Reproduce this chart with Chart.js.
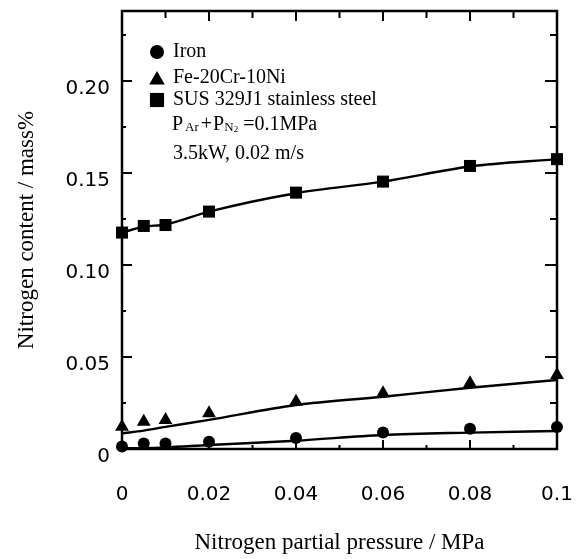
<!DOCTYPE html>
<html><head><meta charset="utf-8">
<script src="https://cdn.jsdelivr.net/npm/chart.js@4/dist/chart.umd.min.js"></script>
<style>html,body{margin:0;padding:0;background:#fff;} canvas{display:block;}</style>
</head><body>
<canvas id="c" width="576" height="559"></canvas>
<script>
// ---- data ----
const pressures = [0, 0.005, 0.01, 0.02, 0.04, 0.06, 0.08, 0.1];
const ironN   = [0.0013, 0.003, 0.003, 0.004, 0.006, 0.009, 0.011, 0.012];
const feCrNiN = [0.0121, 0.0148, 0.0158, 0.0194, 0.0257, 0.0303, 0.0357, 0.0402];
const susN    = [0.1176, 0.1212, 0.1217, 0.129, 0.1393, 0.1453, 0.1538, 0.1575];
// fitted curves (as drawn in the reference)
const ironFit   = [0.0004, 0.0005, 0.0009, 0.0022, 0.0045, 0.0076, 0.0089, 0.0098];
const feCrNiFit = [0.0085, 0.0100, 0.0120, 0.0158, 0.0239, 0.0284, 0.0333, 0.0375];
const susFit    = [0.1176, 0.1208, 0.1220, 0.1290, 0.1390, 0.1453, 0.1535, 0.1575];
const seriesNames = ['Iron', 'Fe-20Cr-10Ni', 'SUS 329J1 stainless steel'];
const xTickLabels = ['0', '0.02', '0.04', '0.06', '0.08', '0.1'];
const yTickLabels = ['0', '0.05', '0.10', '0.15', '0.20'];
const xTitle = 'Nitrogen partial pressure / MPa';
const yTitle = 'Nitrogen content / mass%';

const pts = (xs, ys) => xs.map((x, i) => ({x: x, y: ys[i]}));
const black = '#000';
const serif = '"Liberation Serif", "Times New Roman", serif';
const sans = '"DejaVu Sans", sans-serif';

const fitDs = (ys) => ({
  data: pts(pressures, ys), showLine: true, pointRadius: 0, borderColor: black,
  borderWidth: 2.4, tension: 0.3, cubicInterpolationMode: 'monotone', clip: false
});
const markDs = (ys, style, r) => ({
  data: pts(pressures, ys), showLine: false, pointStyle: style, pointRadius: r,
  pointBackgroundColor: black, pointBorderColor: black, pointBorderWidth: 0, clip: false
});

const framePlugin = {
  id: 'frame',
  afterDraw(chart) {
    const {ctx, chartArea: a, scales: {x, y}} = chart;
    ctx.save();
    ctx.strokeStyle = black;
    ctx.lineWidth = 2.5;
    ctx.strokeRect(a.left, a.top, a.right - a.left, a.bottom - a.top);
    ctx.lineWidth = 2;
    ctx.beginPath();
    for (let i = 0; i <= 10; i++) {
      const px = x.getPixelForValue(i * 0.01);
      const major = i % 2 === 0;
      ctx.moveTo(px, a.bottom); ctx.lineTo(px, a.bottom - (major ? 9 : 4));
      ctx.moveTo(px, a.top); ctx.lineTo(px, a.top + (major ? 10 : 7));
    }
    for (let i = 0; i <= 9; i++) {
      const py = y.getPixelForValue(i * 0.025);
      const major = i % 2 === 0;
      ctx.moveTo(a.left, py); ctx.lineTo(a.left + (major ? 10 : 4), py);
      ctx.moveTo(a.right, py); ctx.lineTo(a.right - (major ? 12 : 7), py);
    }
    ctx.stroke();

    // legend / annotation block
    const rows = [
      {style: 'circle', r: 7, y: 52},
      {style: 'triangle', r: 9, y: 80},
      {style: 'rect', r: 10, y: 100}
    ];
    ctx.fillStyle = black;
    ctx.textBaseline = 'middle';
    ctx.textAlign = 'left';
    ctx.font = '20px ' + serif;
    rows.forEach((row, i) => {
      Chart.helpers.drawPoint(ctx, {pointStyle: row.style, radius: row.r, rotation: 0, borderWidth: 0}, 157, row.y);
      ctx.fillText(seriesNames[i], 173, i === 1 ? 78 : row.y);
    });
    // P_Ar + P_N2 = 0.1MPa
    let tx = 172;
    const ty = 125;
    const seg = (txt, size, dy) => {
      ctx.font = size + 'px ' + serif;
      ctx.fillText(txt, tx, ty + dy);
      tx += ctx.measureText(txt).width;
    };
    seg('P', 20, 0); tx += 2; seg('Ar', 13, 3); tx += 2;
    seg('+', 20, 0); tx += 1; seg('P', 20, 0); seg('N', 13, 3); seg('2', 9, 5); tx += 5;
    seg('=0.1MPa', 20, 0);
    ctx.font = '20px ' + serif;
    ctx.fillText('3.5kW, 0.02 m/s', 173, 154);
    ctx.restore();
  }
};

new Chart(document.getElementById('c'), {
  type: 'scatter',
  data: {
    datasets: [
      fitDs(ironFit), fitDs(feCrNiFit), fitDs(susFit),
      markDs(ironN, 'circle', 6), markDs(feCrNiN, 'triangle', 8), markDs(susN, 'rect', 8.5)
    ]
  },
  options: {
    responsive: false,
    animation: false,
    events: [],
    layout: {padding: {left: 0, right: 19, top: 11, bottom: 0}},
    plugins: {legend: {display: false}, tooltip: {enabled: false}},
    scales: {
      x: {
        type: 'linear', min: 0, max: 0.1,
        afterFit: (s) => { s.height = 110; s.paddingLeft = 0; s.paddingRight = 0; },
        grid: {display: false, drawTicks: false},
        border: {display: false},
        ticks: {stepSize: 0.02, padding: 34, color: black, font: {family: sans, size: 20},
                maxRotation: 0, autoSkip: false,
                callback: (v, i) => xTickLabels[i] ?? ''},
        title: {display: true, text: xTitle, color: black, font: {family: serif, size: 23},
                padding: {top: 0, bottom: 2}}
      },
      y: {
        type: 'linear', min: 0, max: 0.238,
        afterFit: (s) => { s.width = 122; s.paddingTop = 0; s.paddingBottom = 0; },
        grid: {display: false, drawTicks: false},
        border: {display: false},
        ticks: {stepSize: 0.05, includeBounds: false, padding: 12, labelOffset: 8, color: black,
                font: {family: sans, size: 20},
                callback: (v, i) => yTickLabels[i] ?? ''},
        title: {display: true, text: yTitle, color: black, font: {family: serif, size: 23},
                padding: {top: 13, bottom: 0}}
      }
    }
  },
  plugins: [framePlugin]
});
</script>
</body></html>
